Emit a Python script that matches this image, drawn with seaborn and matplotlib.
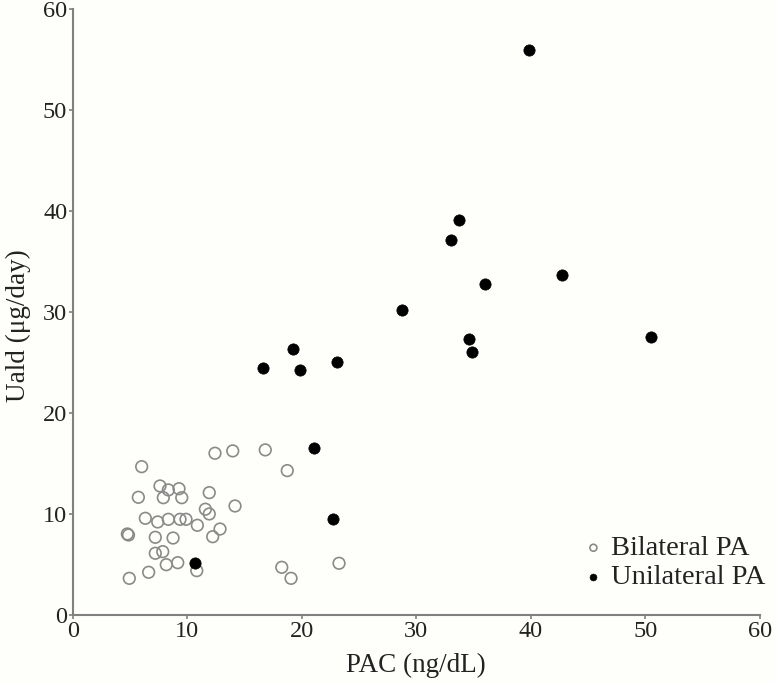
import matplotlib
matplotlib.use("Agg")
import matplotlib.pyplot as plt
import seaborn as sns
import pandas as pd

bilateral_pac = [12.42, 13.97, 16.81, 6.02, 18.73, 7.62, 8.35, 9.28, 5.73, 7.91,
                 9.52, 11.92, 14.17, 11.58, 11.92, 6.34, 7.42, 8.35, 9.37, 9.89,
                 10.88, 4.77, 4.87, 12.86, 12.22, 7.21, 8.76, 7.86, 7.21, 8.17,
                 9.17, 6.63, 4.94, 10.83, 18.25, 19.06, 23.25]
bilateral_uald = [16.04, 16.27, 16.37, 14.71, 14.32, 12.80, 12.41, 12.53, 11.68, 11.64,
                  11.64, 12.14, 10.82, 10.50, 10.03, 9.60, 9.24, 9.50, 9.50, 9.50,
                  8.91, 8.05, 7.95, 8.54, 7.78, 7.72, 7.65, 6.30, 6.14, 5.01,
                  5.21, 4.26, 3.66, 4.42, 4.75, 3.66, 5.15]

unilateral_pac = [39.83, 33.70, 33.03, 42.69, 35.99, 34.62, 34.88, 50.46, 28.77,
                  19.26, 16.64, 19.87, 23.10, 21.07, 22.70, 10.65]
unilateral_uald = [55.9, 39.17, 37.16, 33.72, 32.8, 27.36, 26.1, 27.58, 30.2,
                   26.37, 24.46, 24.29, 25.11, 16.53, 9.5, 5.15]

groups = ["Bilateral PA", "Unilateral PA"]
x_ticks = [0, 10, 20, 30, 40, 50, 60]
y_ticks = [0, 10, 20, 30, 40, 50, 60]

df_b = pd.DataFrame({"PAC": bilateral_pac, "Uald": bilateral_uald})
df_u = pd.DataFrame({"PAC": unilateral_pac, "Uald": unilateral_uald})

sns.set_style("ticks")
plt.rcParams["font.family"] = ["Liberation Serif", "DejaVu Serif"]

bg = "#fefefa"
W, H = 776, 683
fig = plt.figure(figsize=(W / 100, H / 100), dpi=100, facecolor=bg)
ax = fig.add_axes([0.0937, 0.0991, 0.8857, 0.8877])
ax.set_facecolor(bg)

sns.scatterplot(data=df_b, x="PAC", y="Uald", ax=ax, s=70, marker="o",
                facecolor="none", edgecolor="#8a8a8a", linewidth=1.2,
                label=groups[0], zorder=3)
sns.scatterplot(data=df_u, x="PAC", y="Uald", ax=ax, s=66, marker="o",
                color="black", edgecolor="black", linewidth=0.5,
                label=groups[1], zorder=4)

ax.set_xlim(0, 60)
ax.set_ylim(0, 60)
ax.set_xticks(x_ticks)
ax.set_yticks(y_ticks)
ax.tick_params(axis="both", labelsize=17.5, length=3, width=1.2, color="#808080",
               direction="out", pad=1, labelcolor="#222222")
for side in ["top", "right"]:
    ax.spines[side].set_visible(False)
for side in ["left", "bottom"]:
    ax.spines[side].set_color("#808080")
    ax.spines[side].set_linewidth(1.5)

ax.set_xlabel("PAC (ng/dL)", fontsize=19.5, color="#222222", labelpad=8)
ax.set_ylabel("Uald (μg/day)", fontsize=19.5, color="#222222")
ax.yaxis.set_label_coords(-0.061, 0.477)

leg = ax.legend(loc="lower right", frameon=False, fontsize=20.5, markerscale=0.6,
                handletextpad=0.15, handlelength=0.9, borderpad=0.0,
                borderaxespad=0.0, labelspacing=0.1,
                bbox_to_anchor=(765 / W, (H - 590) / H),
                bbox_transform=fig.transFigure)
for t in leg.get_texts():
    t.set_color("#222222")

fig.savefig("out.png", dpi=100, facecolor=bg)
